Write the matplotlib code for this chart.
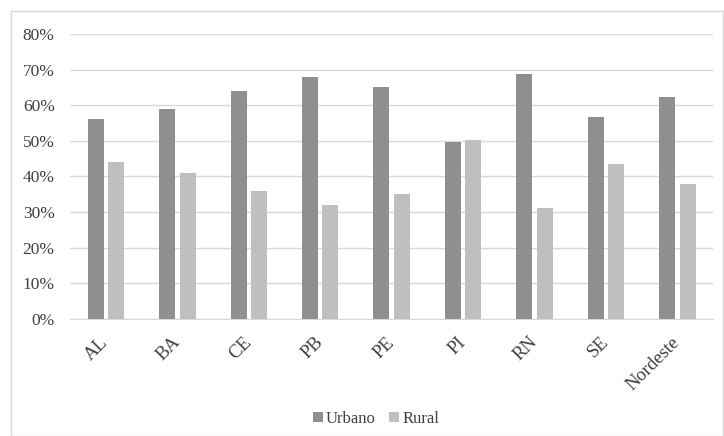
import matplotlib
matplotlib.use("Agg")
import matplotlib.pyplot as plt
import numpy as np
from matplotlib.patches import Rectangle

categories = ["AL", "BA", "CE", "PB", "PE", "PI", "RN", "SE", "Nordeste"]
urbano = [56.0, 59.0, 64.0, 68.0, 65.0, 49.7, 68.8, 56.6, 62.2]
rural = [44.0, 41.0, 36.0, 32.0, 35.0, 50.3, 31.2, 43.4, 37.8]
yticks = [0, 10, 20, 30, 40, 50, 60, 70, 80]

plt.rcParams['font.family'] = ['Liberation Serif', 'DejaVu Serif']

fig = plt.figure(figsize=(7.24, 4.36), dpi=100)
ax = fig.add_axes([70/724, 1 - 319/436, 643/724, 285/436])

x = np.arange(len(categories))
w = 0.224
ax.bar(x - 0.14, urbano, width=w, color="#8f8f8f", label="Urbano", zorder=3)
ax.bar(x + 0.145, rural, width=w, color="#bfbfbf", label="Rural", zorder=3)

ax.set_ylim(0, 80)
ax.set_xlim(-0.5, len(categories) - 0.5)
ax.set_yticks(yticks)
ax.set_yticklabels([f"{v}%" for v in yticks], fontsize=12.5, color="#404040")
ax.set_xticks(x)
ax.set_xticklabels(categories, rotation=45, ha="right", va="center",
                   rotation_mode="anchor", fontsize=13.5, color="#404040")
ax.tick_params(axis="y", length=0, pad=11)
ax.tick_params(axis="x", length=0, pad=15)
ax.grid(axis="y", color="#d9d9d9", linewidth=1, zorder=0)
for s in ["top", "right", "left"]:
    ax.spines[s].set_visible(False)
ax.spines["bottom"].set_color("#d9d9d9")

fig.legend(loc="center", bbox_to_anchor=(376/724, 1 - 419/436), ncol=2,
           frameon=False, fontsize=12, handlelength=0.6, handleheight=0.6,
           handletextpad=0.2, columnspacing=0.8, labelcolor="#404040")

fig.patches.append(Rectangle((11/724, 0), 1 - 11/724 - 1/724, 1 - 11/436,
                             transform=fig.transFigure, fill=False,
                             edgecolor="#d9d9d9", linewidth=1))

fig.savefig("out.png", dpi=100)
